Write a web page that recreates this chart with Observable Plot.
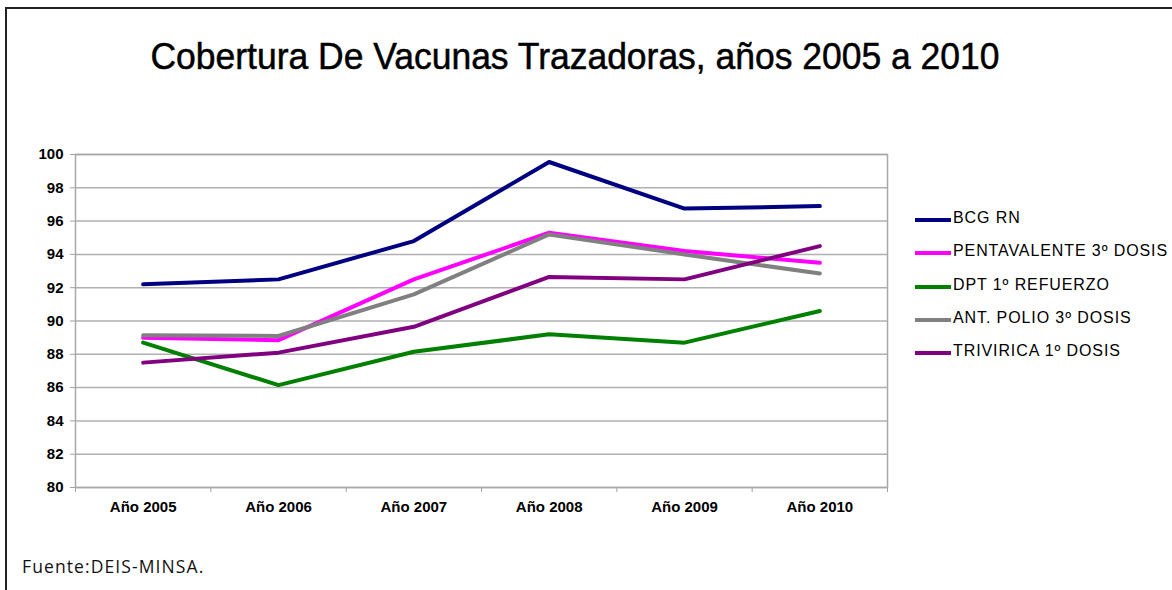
<!DOCTYPE html>
<html>
<head>
<meta charset="utf-8">
<script src="https://cdn.jsdelivr.net/npm/d3@7"></script>
<script src="https://cdn.jsdelivr.net/npm/@observablehq/plot@0.6"></script>
<style>
  html, body { margin: 0; padding: 0; background: #fff; }
  #wrap { position: relative; width: 1172px; height: 590px; overflow: hidden; font-family: "Liberation Sans", Arial, sans-serif; }
  #border { position: absolute; left: 5px; top: 7px; width: 1200px; height: 600px; border-top: 2px solid #222; border-left: 2px solid #222; }
  #chart { position: absolute; left: 0; top: 0; }
  #title { position: absolute; left: 0; width: 1150px; top: 36px; text-align: center; font-size: 36px; color: #000; white-space: nowrap; transform: scaleX(0.985); -webkit-text-stroke: 0.5px #000; }
  #legend { position: absolute; left: 915px; top: 209px; }
  .item { height: 33.3px; display: flex; align-items: flex-start; font-size: 16px; letter-spacing: 0.9px; color: #000; white-space: nowrap; }
  .sw { width: 36px; height: 4px; margin-top: 9px; margin-right: 2px; }
  #caption { position: absolute; left: 22px; top: 554px; font-size: 17.5px; letter-spacing: 1.1px; font-family: "Open Sans", "Liberation Sans", sans-serif; color: #111; }
  g[aria-label^="x-axis"] line, g[aria-label^="x-axis"] path,
  g[aria-label^="y-axis"] line, g[aria-label^="y-axis"] path { stroke: #a0a0a0; }
</style>
</head>
<body>
<div id="wrap">
  <div id="border"></div>
  <div id="chart"></div>
  <div id="title"></div>
  <div id="legend"></div>
  <div id="caption"></div>
</div>
<script>
const titleText = "Cobertura De Vacunas Trazadoras, años 2005 a 2010";
const captionText = "Fuente:DEIS-MINSA.";
const categories = ["Año 2005", "Año 2006", "Año 2007", "Año 2008", "Año 2009", "Año 2010"];
const seriesNames = ["BCG RN", "PENTAVALENTE 3º DOSIS", "DPT 1º REFUERZO", "ANT. POLIO 3º DOSIS", "TRIVIRICA 1º DOSIS"];
const seriesColors = ["#000080", "#ff00ff", "#008000", "#808080", "#800080"];
const bcg = [92.2, 92.5, 94.8, 99.55, 96.75, 96.9];
const pentavalente = [89.0, 88.85, 92.5, 95.3, 94.2, 93.5];
const dpt = [88.7, 86.15, 88.15, 89.2, 88.7, 90.6];
const polio = [89.15, 89.1, 91.6, 95.2, 94.0, 92.85];
const trivirica = [87.5, 88.1, 89.65, 92.65, 92.5, 94.5];
const yTicks = [80, 82, 84, 86, 88, 90, 92, 94, 96, 98, 100];
const xBounds = [-0.5, 0.5, 1.5, 2.5, 3.5, 4.5, 5.5];

const allSeries = [bcg, pentavalente, dpt, polio, trivirica];
const rows = [];
allSeries.forEach((vals, s) => vals.forEach((v, i) => rows.push({series: seriesNames[s], i, value: v})));

const plot = Plot.plot({
  width: 1172,
  height: 590,
  marginLeft: 75,
  marginRight: 285,
  marginTop: 154,
  marginBottom: 103,
  style: {background: "transparent", fontFamily: "Liberation Sans, Arial, sans-serif", color: "#000"},
  x: {domain: [-0.5, 5.5], ticks: xBounds, tickFormat: () => "", tickSize: 5, label: null},
  y: {domain: [80, 100], ticks: yTicks, tickSize: 5, tickPadding: 7, label: null},
  color: {domain: seriesNames, range: seriesColors},
  marks: [
    Plot.ruleY(yTicks, {stroke: "#b0b0b0", strokeWidth: 1.5}),
    Plot.frame({stroke: "#a8a8a8", strokeWidth: 1.5}),
    Plot.line(rows, {x: "i", y: "value", z: "series", stroke: "series", strokeWidth: 4, strokeLinejoin: "round", strokeLinecap: "round"}),
    Plot.text(categories, {x: (d, i) => i, text: d => d, frameAnchor: "bottom", dy: 24, fontWeight: "bold", fontSize: 15, fill: "#000"})
  ]
});
plot.querySelectorAll('g[aria-label^="y-axis"] text').forEach(t => { t.style.fontWeight = "bold"; t.style.fontSize = "15px"; });
document.getElementById("chart").appendChild(plot);

document.getElementById("title").textContent = titleText;
document.getElementById("caption").textContent = captionText;
const legend = document.getElementById("legend");
seriesNames.forEach((name, s) => {
  const item = document.createElement("div");
  item.className = "item";
  const sw = document.createElement("div");
  sw.className = "sw";
  sw.style.background = seriesColors[s];
  const label = document.createElement("span");
  label.textContent = name;
  item.appendChild(sw);
  item.appendChild(label);
  legend.appendChild(item);
});
</script>
</body>
</html>
